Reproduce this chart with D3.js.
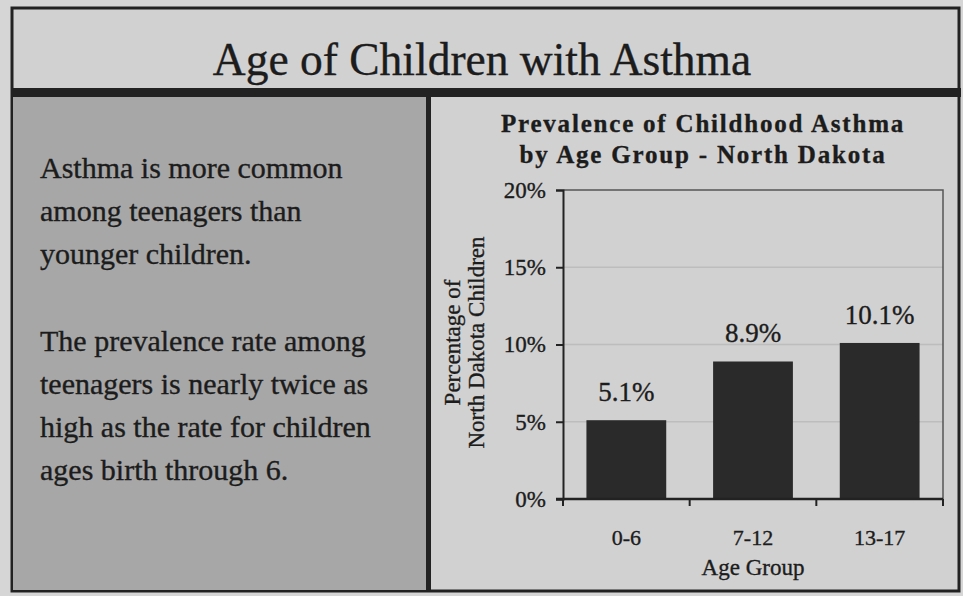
<!DOCTYPE html>
<html>
<head>
<meta charset="utf-8">
<script src="https://cdn.jsdelivr.net/npm/d3@7"></script>
<style>
  html, body { margin: 0; padding: 0; background: #d5d5d5; }
  svg { display: block; }
  text { font-family: "Liberation Serif", "Times New Roman", serif; fill: #1c1c1c; stroke: #1c1c1c; stroke-width: 0.35px; }
</style>
</head>
<body>
<svg id="chart" width="963" height="596"></svg>
<script>
// Data
const categories = ["0-6", "7-12", "13-17"];
const prevalence = [5.1, 8.9, 10.1];
const yTicks = [0, 5, 10, 15, 20];
const pageTitle = "Age of Children with Asthma";
const chartTitle = ["Prevalence of Childhood Asthma", "by Age Group - North Dakota"];
const yTitle = ["Percentage of", "North Dakota Children"];
const xTitle = "Age Group";
const notes = [
  ["Asthma is more common", "among teenagers than", "younger children."],
  ["The prevalence rate among", "teenagers is nearly twice as", "high as the rate for children", "ages birth through 6."]
];

const svg = d3.select("#chart");
const ink = "#222";

// Page frame: title box, heavy rule, two panels
svg.append("rect").attr("x", 0).attr("y", 0).attr("width", 963).attr("height", 596).attr("fill", "#d6d6d6");
svg.append("rect").attr("x", 12).attr("y", 8).attr("width", 947).attr("height", 583)
  .attr("fill", "#d1d1d1").attr("stroke", ink).attr("stroke-width", 3);
svg.append("rect").attr("x", 13).attr("y", 97).attr("width", 414).attr("height", 493).attr("fill", "#a7a7a7");
svg.append("rect").attr("x", 11).attr("y", 88).attr("width", 950).attr("height", 9).attr("fill", ink);
svg.append("rect").attr("x", 426).attr("y", 92).attr("width", 5).attr("height", 500).attr("fill", ink);

svg.append("text").attr("x", 482).attr("y", 75).attr("text-anchor", "middle")
  .style("font-size", "45.5px").text(pageTitle);

// Left panel notes
const noteLine = 43, paraGap = 87;
let yy = 178;
notes.forEach(para => {
  para.forEach((line, li) => {
    svg.append("text").attr("x", 40).attr("y", yy + li * noteLine)
      .style("font-size", "30px").text(line);
  });
  yy += (para.length - 1) * noteLine + paraGap;
});

// Bar chart
const plot = { left: 563, right: 943, top: 190, bottom: 499 };
const x = d3.scaleBand().domain(categories).range([plot.left, plot.right]).padding(0);
const y = d3.scaleLinear().domain([0, 20]).range([plot.bottom, plot.top]);
const g = svg.append("g");

// gridlines
g.selectAll("line.grid").data(yTicks.filter(t => t > 0 && t < 20)).join("line")
  .attr("class", "grid")
  .attr("x1", plot.left).attr("x2", plot.right)
  .attr("y1", d => y(d)).attr("y2", d => y(d))
  .attr("stroke", "#bdbdbd").attr("stroke-width", 1.5);

// plot border top and right
g.append("path")
  .attr("d", `M${plot.left},${y(20)}H${plot.right}V${plot.bottom}`)
  .attr("fill", "none").attr("stroke", "#555").attr("stroke-width", 1.5);

// bars
const barFrac = 0.63;
g.selectAll("rect.bar").data(prevalence).join("rect")
  .attr("class", "bar")
  .attr("x", (d, i) => x(categories[i]) + x.bandwidth() * (1 - barFrac) / 2)
  .attr("width", x.bandwidth() * barFrac)
  .attr("y", d => y(d))
  .attr("height", d => y(0) - y(d))
  .attr("fill", "#2a2a2a");

// value labels
g.selectAll("text.val").data(prevalence).join("text")
  .attr("class", "val")
  .attr("x", (d, i) => x(categories[i]) + x.bandwidth() / 2)
  .attr("y", d => y(d) - 19)
  .attr("text-anchor", "middle")
  .style("font-size", "27px")
  .text(d => d.toFixed(1) + "%");

// y axis
const yAxis = d3.axisLeft(y).tickValues(yTicks).tickFormat(d => d + "%").tickSize(7).tickPadding(10);
const ya = g.append("g").attr("transform", `translate(${plot.left},0)`).call(yAxis);
ya.select(".domain").attr("stroke", ink).attr("stroke-width", 2);
ya.selectAll(".tick line").attr("stroke", ink).attr("stroke-width", 2);
ya.selectAll(".tick text").style("font-size", "23px").attr("fill", "#1c1c1c")
  .style("font-family", "Liberation Serif, serif");

// x axis: boundary ticks between categories
const xa = g.append("g").attr("transform", `translate(0,${plot.bottom})`);
xa.append("line").attr("x1", plot.left - 7).attr("x2", plot.right)
  .attr("stroke", ink).attr("stroke-width", 2.5);
const bounds = categories.map(c => x(c)).concat([plot.right]);
xa.selectAll("line.bt").data(bounds).join("line").attr("class", "bt")
  .attr("x1", d => d).attr("x2", d => d).attr("y1", 0).attr("y2", 7)
  .attr("stroke", ink).attr("stroke-width", 2);
xa.selectAll("text.cat").data(categories).join("text").attr("class", "cat")
  .attr("x", d => x(d) + x.bandwidth() / 2).attr("y", 46)
  .attr("text-anchor", "middle").style("font-size", "22px").text(d => d);

svg.append("text").attr("x", (plot.left + plot.right) / 2).attr("y", 575)
  .attr("text-anchor", "middle").style("font-size", "23px").text(xTitle);

// y title (two lines, rotated)
const yt = svg.append("text").attr("transform", `translate(460,${(plot.top + plot.bottom) / 2 - 2}) rotate(-90)`)
  .attr("text-anchor", "middle").style("font-size", "23px");
yTitle.forEach((t, i) => yt.append("tspan").attr("x", 0).attr("dy", i === 0 ? 0 : 24).text(t));

// chart title
chartTitle.forEach((t, i) => {
  svg.append("text").attr("x", 703).attr("y", 132 + i * 31)
    .attr("text-anchor", "middle")
    .style("font-size", "25px").style("font-weight", "bold").style("letter-spacing", "1.8px")
    .text(t);
});
</script>
</body>
</html>
